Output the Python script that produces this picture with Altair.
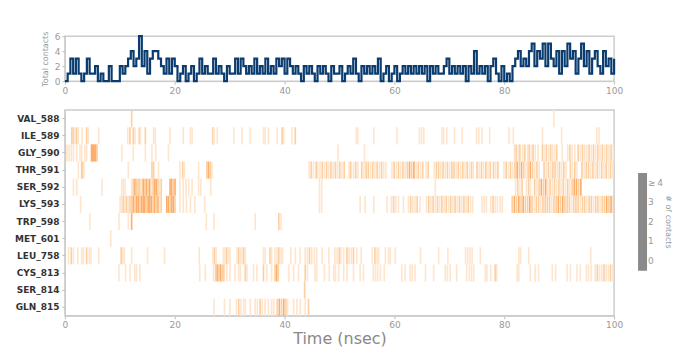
import altair as alt
import pandas as pd

FRAME_NS = 0.5   # sampling step of the total-contacts trace (nsec)
TICK_NS = 0.3    # duration drawn for one contact frame in the map (nsec)
FONT = "DejaVu Sans"

residues = ["VAL_588", "ILE_589", "GLY_590", "THR_591", "SER_592", "LYS_593",
            "TRP_598", "MET_601", "LEU_758", "CYS_813", "SER_814", "GLN_815"]

x_ticks = [0, 20, 40, 60, 80, 100]
y_ticks_total = [0, 2, 4, 6]
legend_values = [0, 1, 2, 3, 4]
level_colors = ["#fff5eb", "#fee6ce", "#fdd0a2", "#fdae6b", "#fd8d3c"]

total_contacts = [
    0, 1, 3, 1, 3, 1, 0, 1, 3, 1,
    1, 2, 0, 1, 0, 0, 2, 0, 0, 0,
    2, 1, 2, 3, 4, 2, 3, 6, 2, 4,
    1, 3, 4, 4, 3, 2, 1, 3, 1, 3,
    2, 0, 1, 2, 0, 1, 2, 0, 1, 3,
    1, 2, 1, 1, 3, 1, 2, 1, 0, 2,
    1, 1, 3, 1, 3, 2, 1, 2, 1, 3,
    1, 2, 1, 3, 1, 2, 1, 3, 2, 3,
    1, 3, 2, 1, 2, 1, 0, 2, 1, 2,
    1, 0, 2, 1, 2, 1, 0, 2, 1, 1,
    2, 0, 1, 2, 1, 3, 1, 0, 2, 1,
    2, 1, 2, 1, 3, 0, 1, 2, 0, 1,
    2, 0, 1, 2, 1, 2, 1, 2, 1, 2,
    1, 2, 0, 2, 1, 2, 1, 1, 2, 3,
    1, 2, 1, 2, 1, 2, 0, 2, 1, 4,
    1, 2, 1, 2, 0, 2, 3, 1, 0, 2,
    0, 1, 0, 2, 3, 4, 2, 3, 2, 4,
    5, 2, 4, 3, 5, 2, 5, 3, 2, 4,
    1, 4, 2, 5, 3, 4, 1, 3, 5, 2,
    4, 1, 3, 4, 2, 1, 4, 2, 3, 1,
    3,
]

# contact frames per residue: [time (nsec), contact level]
val_588 = [[12.0, 2], [88.9, 1]]
ile_589 = [[1.1, 2], [1.4, 2], [1.7, 1], [2.0, 2], [2.3, 1], [3.0, 1], [3.8, 2], [4.1, 1],
           [6.0, 1], [11.3, 1], [11.7, 2], [12.3, 2], [12.6, 1], [13.4, 2], [13.6, 1],
           [14.5, 2], [16.0, 1], [16.3, 1], [19.0, 1], [21.4, 1], [22.7, 1], [23.0, 1],
           [26.8, 2], [27.0, 1], [27.6, 1], [30.6, 1], [32.1, 1], [33.6, 1], [36.0, 1],
           [36.3, 1], [36.9, 1], [38.5, 1], [39.4, 2], [39.7, 1], [41.2, 1], [41.8, 2],
           [52.9, 1], [53.2, 1], [56.1, 1], [60.3, 1], [64.4, 1], [64.8, 1], [65.2, 1],
           [68.5, 1], [68.8, 1], [69.4, 1], [70.8, 1], [72.2, 1], [74.8, 1], [75.2, 1],
           [75.8, 1], [77.2, 1], [80.7, 1], [81.5, 1], [86.8, 1], [90.3, 1], [96.7, 1],
           [97.1, 1]]
gly_590 = [[0.2, 1], [0.6, 1], [1.0, 1], [1.4, 1], [2.0, 1], [2.6, 1], [2.9, 1], [3.5, 1],
           [3.8, 1], [4.7, 3], [4.9, 3], [5.1, 3], [5.3, 3], [5.5, 3], [5.7, 2], [10.2, 1],
           [12.3, 1], [14.5, 1], [15.7, 1], [16.4, 1], [18.7, 1], [49.6, 1], [54.4, 1],
           [81.7, 1], [82.0, 2], [82.4, 1], [82.7, 2], [83.2, 1], [83.6, 2], [84.1, 1],
           [84.4, 2], [84.8, 1], [85.1, 2], [85.5, 1], [86.0, 1], [86.8, 2], [87.1, 1],
           [87.5, 2], [87.9, 1], [88.3, 2], [88.6, 1], [89.0, 1], [89.4, 2], [90.4, 1],
           [91.4, 1], [91.8, 2], [92.2, 1], [92.7, 1], [93.3, 2], [93.7, 1], [94.1, 2],
           [94.5, 1], [94.9, 1], [95.3, 2], [95.7, 1], [96.1, 2], [96.5, 1], [96.9, 2],
           [97.3, 1], [97.7, 2], [98.1, 1], [98.5, 2], [98.9, 1], [99.3, 2], [99.7, 1]]
thr_591 = [[2.3, 1], [2.9, 2], [3.1, 2], [3.3, 1], [11.4, 1], [15.7, 2], [16.0, 2], [16.9, 1],
           [20.8, 1], [21.3, 2], [21.6, 1], [24.2, 1], [25.7, 2], [26.0, 3], [26.3, 2], [26.6, 1],
           [44.3, 1], [44.7, 2], [45.1, 1], [45.6, 2], [45.9, 1], [46.3, 1], [46.7, 2], [47.1, 1],
           [47.5, 2], [47.9, 1], [48.3, 2], [48.7, 1], [49.1, 2], [49.5, 1], [49.9, 2], [50.3, 1],
           [50.7, 2], [51.6, 1], [51.9, 2], [52.4, 1], [52.8, 2], [53.2, 1], [53.9, 2], [54.3, 1],
           [54.7, 2], [55.1, 2], [55.5, 1], [55.9, 2], [56.3, 1], [56.7, 2], [57.1, 1], [57.5, 2],
           [57.9, 1], [58.3, 1], [59.4, 1], [59.8, 2], [60.2, 1], [60.6, 2], [61.0, 1], [61.4, 2],
           [61.8, 1], [62.2, 2], [62.6, 3], [63.0, 2], [63.4, 3], [63.8, 1], [64.2, 2], [64.6, 1],
           [65.0, 2], [65.6, 1], [66.0, 2], [67.1, 1], [67.5, 2], [67.9, 2], [68.3, 1], [68.7, 2],
           [69.1, 1], [69.5, 2], [69.9, 1], [70.3, 2], [70.7, 2], [71.1, 1], [71.5, 2], [71.9, 1],
           [72.3, 2], [72.7, 1], [73.1, 2], [73.5, 1], [73.9, 2], [74.2, 1], [74.9, 2], [75.3, 1],
           [75.7, 2], [76.1, 1], [76.5, 2], [76.9, 1], [77.3, 2], [77.9, 2], [78.3, 1], [78.7, 2],
           [79.8, 1], [80.2, 2], [80.6, 1], [81.0, 2], [81.4, 1], [81.8, 2], [82.2, 3], [82.6, 2],
           [83.0, 3], [83.4, 2], [83.8, 1], [84.2, 2], [84.6, 3], [85.0, 2], [85.4, 1], [85.8, 2],
           [86.2, 1], [87.1, 2], [87.5, 1], [87.9, 2], [88.3, 1], [88.7, 2], [89.1, 2], [89.5, 1],
           [89.9, 2], [90.3, 1], [90.7, 2], [91.1, 1], [91.9, 2], [92.3, 1], [92.7, 2], [93.1, 1],
           [94.0, 2], [94.4, 1], [94.8, 2], [95.2, 2], [95.6, 1], [96.0, 2], [96.4, 1], [96.8, 2],
           [97.2, 1], [97.6, 2], [98.0, 1], [98.4, 2], [98.8, 1], [99.2, 2], [99.6, 1]]
ser_592 = [[1.4, 1], [2.0, 1], [6.6, 1], [10.2, 1], [10.5, 1], [10.8, 1], [12.0, 1], [12.3, 2],
           [12.6, 3], [12.9, 2], [13.2, 2], [13.5, 2], [13.8, 1], [14.1, 3], [14.4, 2], [14.7, 3],
           [15.0, 2], [15.3, 3], [15.6, 1], [15.9, 2], [16.2, 3], [16.5, 3], [16.8, 2], [17.1, 1],
           [17.4, 2], [19.0, 3], [19.3, 3], [19.6, 2], [19.9, 3], [20.8, 1], [21.4, 1], [21.9, 1],
           [22.4, 1], [23.0, 1], [24.2, 1], [24.6, 1], [26.4, 1], [46.2, 1], [46.6, 1], [67.3, 1],
           [81.9, 1], [82.3, 2], [82.7, 1], [83.1, 2], [83.9, 1], [84.3, 2], [84.6, 1], [85.4, 2],
           [85.8, 1], [86.2, 2], [86.6, 3], [87.0, 2], [87.4, 3], [87.8, 1], [88.2, 2], [88.6, 1],
           [89.0, 2], [89.4, 1], [89.8, 2], [90.2, 1], [90.6, 2], [91.0, 1], [91.4, 2], [91.8, 1],
           [92.2, 2], [92.6, 3], [93.0, 3], [93.4, 2], [93.8, 3]]
lys_593 = [[2.7, 1], [9.9, 1], [10.2, 1], [10.5, 2], [10.8, 1], [11.1, 2], [11.4, 1], [11.7, 2],
           [12.0, 2], [12.3, 3], [12.6, 2], [12.9, 3], [13.2, 3], [13.5, 2], [13.8, 3], [14.1, 3],
           [14.4, 3], [14.7, 2], [15.0, 3], [15.3, 3], [15.6, 3], [15.9, 2], [16.2, 3], [16.5, 2],
           [16.8, 3], [17.1, 1], [17.4, 2], [18.4, 3], [18.7, 3], [19.0, 2], [19.3, 3], [19.6, 3],
           [19.9, 2], [20.8, 1], [21.4, 1], [22.0, 1], [22.7, 1], [23.5, 1], [25.3, 1], [46.2, 1],
           [46.6, 1], [53.6, 1], [54.5, 1], [56.1, 1], [58.5, 1], [59.3, 1], [59.7, 2], [60.1, 1],
           [60.6, 1], [61.5, 1], [62.4, 1], [62.8, 2], [63.2, 1], [63.6, 1], [64.0, 2], [64.5, 1],
           [65.7, 1], [66.1, 2], [66.5, 1], [66.9, 2], [67.3, 1], [67.7, 2], [68.1, 1], [68.5, 2],
           [68.9, 1], [69.3, 2], [69.7, 1], [70.1, 2], [70.5, 1], [70.9, 2], [71.3, 1], [71.7, 2],
           [72.1, 1], [72.5, 2], [72.9, 1], [73.3, 2], [73.7, 1], [74.1, 1], [75.8, 1], [76.2, 1],
           [76.6, 1], [77.4, 1], [77.8, 2], [78.2, 1], [78.6, 1], [79.1, 1], [79.5, 1],
           [81.3, 2], [81.7, 3], [82.1, 2], [82.5, 3], [82.9, 2], [83.3, 3], [83.7, 2], [84.1, 2],
           [84.5, 3], [84.9, 2], [85.3, 1], [85.7, 2], [86.1, 2], [86.5, 1], [86.9, 2], [87.3, 2],
           [87.7, 2], [88.1, 2], [88.5, 1], [88.9, 2], [89.3, 2], [89.7, 3], [90.1, 2], [90.5, 3],
           [90.9, 2], [91.3, 2], [91.7, 2], [92.1, 1], [92.5, 2], [92.9, 2], [93.3, 2], [93.7, 1],
           [94.1, 2], [94.5, 2], [94.9, 1], [95.3, 2], [95.7, 2], [96.1, 1], [96.5, 2], [96.9, 2],
           [97.3, 1], [97.7, 2], [98.1, 2], [98.5, 3], [98.9, 2], [99.3, 3], [99.7, 2]]
trp_598 = [[4.4, 1], [9.7, 1], [11.4, 1], [12.0, 3], [25.6, 1], [27.0, 1], [34.5, 1],
           [38.8, 2], [39.2, 1]]
met_601 = [[8.2, 1]]
leu_758 = [[0.5, 1], [1.0, 2], [1.4, 1], [2.2, 1], [2.9, 1], [3.2, 1], [3.8, 2], [4.3, 1],
           [4.6, 1], [6.0, 1], [10.1, 2], [10.4, 1], [10.7, 1], [12.0, 1], [14.9, 1], [18.0, 1],
           [24.3, 1], [26.8, 1], [27.1, 2], [27.4, 1], [28.7, 1], [29.0, 1], [29.3, 2], [29.6, 1],
           [29.9, 1], [31.2, 1], [31.5, 2], [31.8, 1], [32.1, 1], [32.4, 2], [32.7, 1], [36.0, 1],
           [36.3, 1], [37.2, 2], [37.5, 1], [38.1, 1], [38.5, 1], [38.8, 2], [39.2, 1], [39.5, 1],
           [41.0, 1], [41.8, 1], [42.7, 1], [43.6, 1], [44.0, 1], [44.4, 2], [44.8, 1], [45.3, 1],
           [45.7, 1], [46.7, 1], [47.9, 1], [49.0, 1], [49.4, 1], [49.8, 2], [50.1, 1], [50.6, 1],
           [51.2, 2], [51.6, 1], [52.0, 1], [52.4, 2], [53.0, 1], [53.8, 1], [55.8, 1], [56.3, 2],
           [56.7, 1], [57.0, 1], [58.2, 1], [58.8, 1], [59.1, 1], [60.0, 1], [64.6, 1], [67.9, 1],
           [69.6, 1], [72.8, 1], [73.2, 1], [73.6, 1], [74.0, 1], [75.5, 1], [82.5, 1], [82.8, 1],
           [84.3, 1], [95.6, 1]]
cys_813 = [[9.7, 1], [10.9, 1], [11.7, 1], [12.6, 1], [12.9, 1], [13.5, 1], [24.4, 1], [25.4, 1],
           [26.9, 1], [27.3, 2], [27.6, 3], [27.9, 2], [28.2, 3], [28.5, 2], [28.8, 2], [29.3, 1],
           [29.9, 1], [30.8, 1], [31.5, 1], [31.8, 1], [32.7, 2], [33.0, 1], [34.2, 1], [34.8, 1],
           [36.0, 2], [36.6, 1], [37.5, 1], [38.1, 2], [38.4, 3], [38.7, 2], [40.6, 1], [41.5, 1],
           [42.4, 1], [43.6, 2], [44.0, 1], [45.4, 1], [45.7, 1], [47.1, 1], [48.0, 1], [48.8, 1],
           [49.1, 1], [49.7, 1], [50.6, 1], [51.2, 1], [52.4, 1], [53.6, 1], [54.2, 1], [56.0, 1],
           [56.4, 1], [56.8, 1], [57.3, 1], [58.0, 1], [61.2, 1], [61.8, 1], [62.7, 1], [63.1, 1],
           [63.6, 1], [65.5, 1], [67.0, 1], [69.1, 1], [69.5, 1], [70.0, 1], [71.2, 1], [73.0, 1],
           [73.5, 1], [73.9, 1], [74.3, 1], [76.4, 1], [76.7, 1], [77.4, 1], [78.2, 2], [78.5, 1],
           [82.2, 1], [82.5, 1], [84.6, 1], [85.5, 1], [86.1, 1], [88.6, 1], [89.2, 1], [91.3, 1],
           [91.9, 1], [93.1, 1], [93.7, 1], [94.8, 1], [95.2, 1], [95.7, 1], [96.4, 1], [96.8, 2],
           [97.2, 1], [97.6, 1], [98.0, 2], [98.4, 1], [98.8, 1], [99.2, 2], [99.6, 1]]
ser_814 = [[43.5, 2]]
gln_815 = [[27.0, 1], [28.9, 1], [29.9, 1], [31.1, 1], [31.5, 2], [31.9, 1], [32.4, 1], [32.7, 1],
           [33.6, 1], [34.5, 1], [34.9, 1], [35.4, 2], [35.8, 1], [36.3, 1], [36.9, 1], [37.5, 1],
           [37.9, 1], [38.5, 2], [38.9, 3], [39.3, 2], [39.7, 3], [40.1, 2], [40.4, 1], [41.5, 1],
           [42.1, 1], [42.7, 1], [43.6, 1], [44.2, 2]]

contacts = {
    "VAL_588": val_588, "ILE_589": ile_589, "GLY_590": gly_590, "THR_591": thr_591,
    "SER_592": ser_592, "LYS_593": lys_593, "TRP_598": trp_598, "MET_601": met_601,
    "LEU_758": leu_758, "CYS_813": cys_813, "SER_814": ser_814, "GLN_815": gln_815,
}

rows = []
for res, ticks in contacts.items():
    for t, lvl in ticks:
        rows.append({"residue": res, "t": t, "level": lvl})
heat_df = pd.DataFrame(rows)

total_df = pd.DataFrame({
    "t": [i * FRAME_NS for i in range(len(total_contacts))],
    "total": total_contacts,
})

x_scale = alt.Scale(domain=[0, 100], nice=False, zero=False)

top = alt.Chart(total_df).mark_line(
    interpolate="step-after", color="#0b3c70", strokeWidth=2.2
).encode(
    x=alt.X("t:Q", scale=x_scale,
            axis=alt.Axis(values=x_ticks, title=None, grid=False, labelFlush=False)),
    y=alt.Y("total:Q", scale=alt.Scale(domain=[0, 6], nice=False),
            axis=alt.Axis(values=y_ticks_total, title="Total contacts", grid=False,
                          titleFontSize=8, titleColor="#999", titlePadding=5)),
).properties(width=550, height=45)

bottom = alt.Chart(heat_df).transform_calculate(
    t_end=f"datum.t + {TICK_NS}"
).mark_rect(strokeWidth=0, strokeOpacity=0).encode(
    x=alt.X("t:Q", scale=x_scale,
            axis=alt.Axis(values=x_ticks, title="Time (nsec)", titleFontSize=16,
                          grid=False, labelFlush=False, labelPadding=2,
                          titleColor="#888", titlePadding=1)),
    x2="t_end:Q",
    y=alt.Y("residue:N", sort=residues,
            scale=alt.Scale(domain=residues, paddingInner=0, paddingOuter=0),
            axis=alt.Axis(title=None, labelColor="#333", labelFontWeight="bold", grid=False,
                          labelFontSize=9, labelPadding=3)),
    fill=alt.Fill("level:Q", scale=alt.Scale(domain=legend_values, range=level_colors),
                  legend=None),
    stroke=alt.Stroke(
        "level:Q",
        scale=alt.Scale(domain=[-0.5, 4.5], range=["#8a8a8a", "#8a8a8a"]),
        legend=alt.Legend(
            orient="none", legendX=574, legendY=137, direction="vertical",
            gradientLength=98, gradientThickness=9, gradientStrokeWidth=0,
            values=legend_values,
            labelExpr="datum.value >= 4 ? '≥\u2009' + '4' : datum.label",
            labelFontSize=9, labelColor="#999", labelOffset=1, labelFont=FONT,
            title="# of contacts", titleOrient="right",
            titleAnchor="middle", titleFontSize=8, titleColor="#999",
            titleFontWeight="normal", titleFont=FONT, titlePadding=1,
        ),
    ),
).properties(width=550, height=206)

chart = alt.vconcat(top, bottom, spacing=13).properties(
    padding={"left": 5, "top": 22, "right": 0, "bottom": 0}
).configure_axis(
    labelFont=FONT, labelFontSize=9, labelColor="#999", domainColor="#ccc",
    tickColor="#bbb", tickSize=3, titleFont=FONT, titleFontWeight="normal", grid=False,
).configure_view(stroke="#ccc", strokeWidth=1.5)

chart.save("out.html", embed_options={"renderer": "svg", "actions": False})
